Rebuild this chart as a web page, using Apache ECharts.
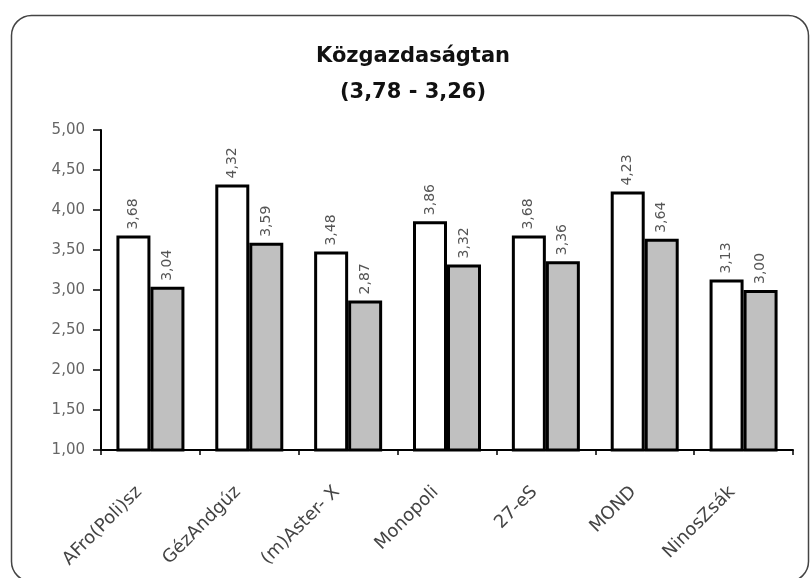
<!DOCTYPE html>
<html><head><meta charset="utf-8">
<script src="https://cdn.jsdelivr.net/npm/echarts@6/dist/echarts.min.js"></script>
<style>html,body{margin:0;padding:0;background:#fff}#c{width:811px;height:578px}</style>
</head><body><div id="c"></div>
<script>
const categories = ['AFro(Poli)sz', 'GézAndgúz', '(m)Aster- X', 'Monopoli', '27-eS', 'MOND', 'NinosZsák'];
const seriesA = [3.68, 4.32, 3.48, 3.86, 3.68, 4.23, 3.13];
const seriesB = [3.04, 3.59, 2.87, 3.32, 3.36, 3.64, 3.00];
const titleText = 'Közgazdaságtan';
const subtitleText = '(3,78 - 3,26)';

const fmt = v => v.toFixed(2).replace('.', ',');
const font = '"DejaVu Sans", "Liberation Sans", Arial, sans-serif';
const labelCfg = {
  show: true, position: 'top', rotate: 90, align: 'left', verticalAlign: 'middle',
  distance: 6, color: '#555', fontSize: 14, fontFamily: font,
  formatter: p => fmt(p.value)
};
const chart = echarts.init(document.getElementById('c'));
chart.setOption({
  animation: false,
  backgroundColor: '#fff',
  graphic: [{
    type: 'rect', left: 9, top: 13, shape: { width: 797, height: 566, r: 20 },
    style: { fill: 'none', stroke: '#444', lineWidth: 1.5 }
  }],
  title: {
    text: titleText + '\n' + subtitleText, left: 413, top: 39, textAlign: 'center', padding: 0,
    textStyle: { fontFamily: font, fontSize: 21, fontWeight: 'bold', color: '#111', lineHeight: 36 }
  },
  grid: { left: 101, right: 18, top: 130, bottom: 128 },
  xAxis: {
    type: 'category', data: categories,
    axisLine: { lineStyle: { color: '#000', width: 2 } },
    axisTick: { show: true, alignWithLabel: false, length: 5, lineStyle: { color: '#000', width: 1.5 } },
    axisLabel: { rotate: 45, color: '#444', fontSize: 18, fontFamily: font, margin: 28, padding: [0, 16, 0, 0] }
  },
  yAxis: {
    type: 'value', min: 1, max: 5, interval: 0.5,
    axisLine: { show: true, lineStyle: { color: '#000', width: 2 } },
    axisTick: { show: true, length: 8, lineStyle: { color: '#000', width: 1.5 } },
    splitLine: { show: false },
    axisLabel: { color: '#666', fontSize: 15, fontFamily: font, margin: 16, formatter: v => fmt(v) }
  },
  series: [
    { type: 'bar', data: seriesA, barWidth: 34, barGap: '0%',
      itemStyle: { color: '#fff', borderColor: '#000', borderWidth: 3 }, label: labelCfg },
    { type: 'bar', data: seriesB, barWidth: 34,
      itemStyle: { color: '#c0c0c0', borderColor: '#000', borderWidth: 3 }, label: labelCfg }
  ]
});
</script></body></html>
